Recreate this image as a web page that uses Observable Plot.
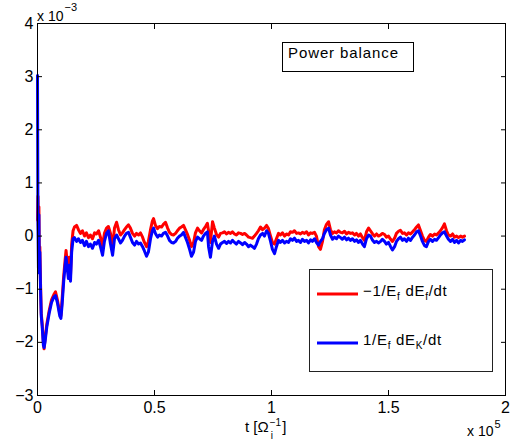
<!DOCTYPE html>
<html><head><meta charset="utf-8">
<script src="https://cdn.jsdelivr.net/npm/d3@7"></script>
<script src="https://cdn.jsdelivr.net/npm/@observablehq/plot@0.6"></script>
<style>
html,body{margin:0;padding:0;background:#fff;}
#chart{width:510px;height:444px;}
</style></head><body><div id="chart"></div>
<script>
// time in units of 1e5 / Omega_i
const t = [
  0, 0.002, 0.004, 0.006, 0.008, 0.010, 0.013, 0.016, 0.020, 0.025,
  0.028, 0.032, 0.040, 0.050, 0.060, 0.070, 0.077, 0.085, 0.095, 0.100,
  0.105, 0.112, 0.118, 0.122, 0.127, 0.132, 0.136, 0.141, 0.146, 0.152,
  0.158,0.167,0.175,0.184,0.192,0.201,0.209,0.218,0.226,0.235,
  0.244,0.252,0.261,0.269,0.278,0.286,0.295,0.303,0.312,0.321,
  0.329,0.338,0.346,0.355,0.363,0.372,0.380,0.389,0.397,0.406,
  0.415,0.423,0.432,0.440,0.449,0.457,0.466,0.474,0.483,0.491,
  0.496,0.504,0.513,0.521,0.530,0.538,0.547,0.556,0.564,0.573,
  0.581,0.590,0.598,0.607,0.615,0.624,0.632,0.641,0.650,0.658,
  0.667,0.675,0.684,0.692,0.701,0.709,0.718,0.726,0.731,0.739,
  0.748,0.756,0.765,0.774,0.782,0.791,0.799,0.808,0.816,0.825,
  0.833,0.842,0.850,0.859,0.868,0.876,0.885,0.893,0.902,0.910,
  0.919,0.927,0.936,0.944,0.953,0.962,0.970,0.979,0.987,0.996,
  1.004,1.013,1.021,1.030,1.038,1.047,1.056,1.064,1.073,1.081,
  1.090,1.098,1.107,1.115,1.124,1.132,1.141,1.150,1.158,1.167,
  1.175,1.184,1.192,1.201,1.209,1.218,1.226,1.235,1.244,1.252,
  1.261,1.269,1.278,1.286,1.295,1.303,1.312,1.321,1.329,1.338,
  1.346,1.355,1.363,1.372,1.380,1.389,1.397,1.406,1.415,1.423,
  1.432,1.440,1.449,1.457,1.466,1.474,1.483,1.491,1.500,1.509,
  1.517,1.526,1.534,1.543,1.551,1.560,1.568,1.577,1.585,1.594,
  1.603,1.611,1.620,1.628,1.637,1.645,1.654,1.662,1.671,1.679,
  1.688,1.697,1.705,1.714,1.722,1.731,1.739,1.748,1.756,1.765,
  1.774,1.782,1.791,1.799,1.808,1.816,1.825
];
// -1/E_f dE_f/dt  (units of 1e-3)
const red = [
  0.3, 0.75, 0.1, 0.55, -0.5, -0.2, -0.9, -1.45, -1.65, -2.0,
  -2.12, -1.95, -1.65, -1.4, -1.2, -1.1, -1.05, -1.2, -1.45, -1.5,
  -1.2, -0.75, -0.45, -0.27, -0.5, -0.7, -0.4, -0.75, -0.15, 0.1,
  0.17, 0.2, 0.12, 0.05, 0.1, 0.0, 0.06, -0.03, 0.02, -0.05,
  0.06, 0.04, 0.1, -0.02, -0.18, 0.05, 0.15, 0.18, 0.05, -0.2,
  0.15, 0.26, 0.12, 0.02, 0.06, 0.12, 0.17, 0.21, 0.15, 0.05,
  0.0, 0.05, 0.02, 0.06, -0.02, -0.12, -0.2, -0.1, 0.12, 0.28,
  0.33, 0.2, 0.14, 0.18, 0.17, 0.22, 0.26, 0.15, 0.07, 0.03,
  0.02, 0.05, 0.1, 0.15, 0.17, 0.2, 0.12, 0.03, -0.08, -0.2,
  -0.12, 0.06, 0.15, 0.1, 0.06, 0.12, 0.18, 0.24, 0.1, -0.12,
  0.27, 0.15, 0.03, -0.02, 0.05, 0.06, 0.08, 0.04, 0.07, 0.05,
  0.08, 0.04, 0.02, 0.06, 0.05, 0.03, 0.05, 0.02, -0.02, -0.03,
  -0.04, 0.0, 0.05, 0.1, 0.17, 0.12, 0.15, 0.2, 0.14, 0.0,
  -0.12, -0.15, -0.05, 0.05, 0.02, 0.06, 0.0, 0.04, 0.02, 0.08,
  0.07, 0.1, 0.05, 0.06, 0.04, 0.07, 0.05, 0.08, 0.02, 0.06,
  0.05, 0.07, 0.0, -0.2, -0.25, -0.1, 0.12, 0.22, 0.27, 0.12,
  0.05, 0.08, 0.06, 0.1, 0.07, 0.06, 0.09, 0.04, 0.07, 0.05,
  0.06, 0.02, 0.05, 0.0, 0.04, -0.03, -0.08, 0.08, 0.15, 0.1,
  0.04, 0.0, 0.04, 0.0, 0.02, 0.05, 0.03, -0.02, 0.0, -0.06,
  -0.1, -0.04, 0.05, 0.09, 0.11, 0.05, 0.06, 0.02, 0.06, 0.04,
  0.08, 0.12, 0.17, 0.21, 0.1, 0.0, -0.08, -0.1, -0.02, 0.03,
  0.0, 0.04, 0.02, 0.06, 0.1, 0.16, 0.23, 0.1, 0.02, 0.0,
  0.04, -0.02, 0.0, -0.03, 0.0, -0.02, 0.0
];
// 1/E_f dE_K/dt  (units of 1e-3)
const blue = [
  3.02, 0.2, -0.6, 0.4, -0.7, -0.3, -1.0, -1.5, -1.7, -2.05,
  -2.1, -2.0, -1.7, -1.45, -1.25, -1.15, -1.12, -1.25, -1.5, -1.55,
  -1.3, -0.85, -0.55, -0.4, -0.6, -0.8, -0.55, -0.85, -0.3, -0.05,
  -0.03, -0.1, -0.05, -0.12, -0.08, -0.18, -0.1, -0.2, -0.15, -0.23,
  -0.12, -0.15, -0.08, -0.2, -0.36, -0.1, 0.05, 0.1, -0.15, -0.36,
  -0.05, 0.02, -0.05, -0.13, -0.08, 0.0, 0.05, 0.07, -0.02, -0.12,
  -0.17, -0.1, -0.15, -0.13, -0.2, -0.28, -0.38, -0.3, -0.05, 0.1,
  0.15, 0.05, -0.02, 0.02, 0.0, 0.05, 0.07, 0.0, -0.08, -0.12,
  -0.13, -0.1, -0.04, 0.0, 0.02, 0.07, -0.02, -0.12, -0.25, -0.38,
  -0.3, -0.1, -0.02, -0.05, -0.08, 0.0, 0.05, 0.08, -0.2, -0.4,
  -0.1, 0.0, -0.15, -0.23, -0.15, -0.12, -0.1, -0.14, -0.1, -0.13,
  -0.08, -0.12, -0.15, -0.1, -0.13, -0.16, -0.12, -0.15, -0.2, -0.17,
  -0.2, -0.23, -0.15, -0.05, 0.02, 0.05, 0.0, 0.1, 0.05, -0.1,
  -0.25, -0.33, -0.2, -0.08, -0.12, -0.08, -0.13, -0.1, -0.12, -0.05,
  -0.08, -0.04, -0.1, -0.08, -0.12, -0.06, -0.1, -0.08, -0.13, -0.07,
  -0.1, -0.05, -0.12, -0.17, -0.1, -0.05, 0.05, 0.12, 0.15, 0.02,
  -0.06, -0.02, -0.05, 0.0, -0.03, -0.06, -0.02, -0.07, -0.04, -0.08,
  -0.05, -0.1, -0.07, -0.12, -0.08, -0.15, -0.2, -0.05, 0.02, 0.0,
  -0.08, -0.12, -0.1, -0.13, -0.1, -0.06, -0.1, -0.15, -0.12, -0.2,
  -0.26, -0.2, -0.1, -0.05, -0.02, -0.08, -0.05, -0.1, -0.04, -0.08,
  -0.02, 0.02, 0.08, 0.1, 0.0, -0.1, -0.18, -0.2, -0.1, -0.06,
  -0.1, -0.06, -0.08, -0.03, 0.02, 0.06, 0.08, 0.0, -0.06, -0.1,
  -0.06, -0.12, -0.08, -0.13, -0.08, -0.1, -0.07
];
const xTicks = [0, 0.5, 1, 1.5, 2];
const yTicks = [-3, -2, -1, 0, 1, 2, 3, 4];
const titleText = "Power balance";

const rows = t.map((v, i) => ({t: v, red: red[i], blue: blue[i]}));
const FONT = "'Liberation Sans', Arial, Helvetica, sans-serif";
const fmt = d => d < 0 ? "\u2212" + (-d) : String(d);

const chart = Plot.plot({
  width: 510, height: 444,
  marginLeft: 37, marginRight: 5, marginTop: 23, marginBottom: 49,
  style: {fontFamily: FONT, fontSize: "16px", background: "white", color: "black", overflow: "visible"},
  x: {domain: [0, 2]},
  y: {domain: [-3, 4]},
  marks: [
    Plot.lineY(rows, {x: "t", y: "red", stroke: "#ff0000", strokeWidth: 3, strokeLinejoin: "round"}),
    Plot.lineY(rows, {x: "t", y: "blue", stroke: "#0000ff", strokeWidth: 3, strokeLinejoin: "round"}),
    Plot.frame({stroke: "black", strokeWidth: 1}),
    Plot.axisX(xTicks, {anchor: "bottom", tickSize: -5, text: null, label: null, stroke: "black"}),
    Plot.axisX(xTicks, {anchor: "top", tickSize: -5, text: null, label: null, stroke: "black"}),
    Plot.axisY(yTicks, {anchor: "left", tickSize: -5, text: null, label: null, stroke: "black"}),
    Plot.axisY(yTicks, {anchor: "right", tickSize: -5, text: null, label: null, stroke: "black"}),
    Plot.axisX(xTicks, {anchor: "bottom", tickSize: 0, tickPadding: 6, tickFormat: fmt, label: null, fontSize: 16}),
    Plot.axisY(yTicks, {anchor: "left", tickSize: 0, tickPadding: 4, tickFormat: fmt, label: null, fontSize: 16})
  ]
});
document.getElementById("chart").appendChild(chart);

const svg = d3.select(chart);
const ann = svg.append("g").attr("font-family", FONT).attr("fill", "black").attr("text-anchor", "start");

function addText(x, y, s, size, extra) {
  const el = ann.append("text").attr("x", x).attr("y", y).attr("font-size", size).text(s);
  if (extra) extra(el);
  return el;
}
function width(el) { return el.node().getComputedTextLength(); }

// multiplier top-left
const m1 = addText(37, 21, "x 10", 14);
addText(37 + width(m1) + 1, 11, "\u22123", 11);
// multiplier bottom-right
const m2 = addText(467, 436, "x 10", 14);
addText(467 + width(m2) + 1, 428, "5", 11);

// x-axis label  t [Ω_i^{-1}]
const xl = addText(245, 432, "t [\u03A9", 15);
const xw = width(xl);
const sup = addText(245 + xw + 1, 426, "\u22121", 10);
addText(245 + xw + 2, 439, "i", 10);
addText(245 + xw + 2 + width(sup), 432, "]", 15);

// title box
ann.append("rect").attr("x", 282.5).attr("y", 42.5).attr("width", 131).attr("height", 29)
  .attr("fill", "white").attr("stroke", "black");
addText(288, 58, titleText, 15, el => el.attr("letter-spacing", 0.9));

// legend box
ann.append("rect").attr("x", 309.5).attr("y", 269.5).attr("width", 183).attr("height", 102)
  .attr("fill", "white").attr("stroke", "#222");
ann.append("line").attr("x1", 317).attr("x2", 358).attr("y1", 294).attr("y2", 294)
  .attr("stroke", "#ff0000").attr("stroke-width", 3);
ann.append("line").attr("x1", 317).attr("x2", 358).attr("y1", 343).attr("y2", 343)
  .attr("stroke", "#0000ff").attr("stroke-width", 3);

function legendLabel(x, y, parts) {
  const el = ann.append("text").attr("x", x).attr("y", y).attr("font-size", 15).attr("letter-spacing", 0.7);
  let shift = 0;
  for (const [s, sub] of parts) {
    const dy = sub ? 4 - shift : -shift;
    shift = sub ? 4 : 0;
    el.append("tspan").attr("dy", dy).attr("font-size", sub ? 10 : 15).text(s);
  }
}
legendLabel(363, 296, [["\u22121/E", false], ["f", true], [" dE", false], ["f", true], ["/dt", false]]);
legendLabel(363, 345, [["1/E", false], ["f", true], [" dE", false], ["K", true], ["/dt", false]]);
</script>
</body></html>
